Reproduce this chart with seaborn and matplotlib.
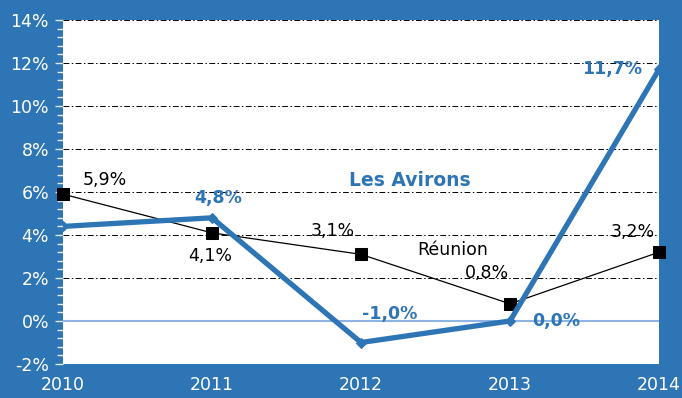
import matplotlib
matplotlib.use("Agg")
import matplotlib.pyplot as plt
from matplotlib.ticker import MultipleLocator, FuncFormatter
import numpy as np
import pandas as pd
import seaborn as sns

years = [2010, 2011, 2012, 2013, 2014]
avirons = [4.4, 4.8, -1.0, 0.0, 11.7]
reunion = [5.9, 4.1, 3.1, 0.8, 3.2]
avirons_labels = [None, "4,8%", "-1,0%", "0,0%", "11,7%"]
reunion_labels = ["5,9%", "4,1%", "3,1%", "0,8%", "3,2%"]
y_ticks = [-2, 0, 2, 4, 6, 8, 10, 12, 14]

BLUE = "#2E75B6"

sns.set_theme(style="white")
plt.rcParams["font.family"] = ["DejaVu Sans"]

df = pd.DataFrame({"year": years, "Les Avirons": avirons, "Réunion": reunion})

fig = plt.figure(figsize=(6.82, 3.98), dpi=100, facecolor=BLUE)
ax = fig.add_axes([63 / 682, 34 / 398, 596 / 682, 344 / 398])
ax.set_facecolor("white")

# horizontal gridlines
for v in y_ticks:
    if v == 0:
        continue
    style = (0, (3, 2)) if v == -2 else (0, (6, 2.5, 1.5, 2.5))
    ax.axhline(v, color="black", lw=0.7, ls=style, zorder=1)
ax.axhline(0, color="#8FB4E3", lw=1.5, zorder=1)

sns.lineplot(data=df, x="year", y="Réunion", ax=ax, color="black", lw=0.9,
             marker="s", markersize=9, markeredgecolor="black", zorder=3,
             clip_on=False)
sns.lineplot(data=df, x="year", y="Les Avirons", ax=ax, color=BLUE, lw=3.8,
             marker="D", markersize=5, markeredgecolor=BLUE, zorder=4)

ax.set_xlim(2010, 2014)
ax.set_ylim(-2, 14)
ax.set_xlabel("")
ax.set_ylabel("")
ax.set_xticks(years)
ax.set_yticks(y_ticks)
ax.yaxis.set_minor_locator(MultipleLocator(0.4))
ax.yaxis.set_major_formatter(FuncFormatter(lambda v, p: f"{int(v)}%"))
ax.tick_params(axis="y", which="major", length=6, width=1, color="#E0E8F2",
               labelcolor="white", labelsize=12.5, left=True, pad=4)
ax.tick_params(axis="y", which="minor", length=4, width=1, color="#E0E8F2", left=True)
ax.tick_params(axis="x", length=0, labelcolor="white", labelsize=12.5, pad=9)
for s in ax.spines.values():
    s.set_visible(False)

# value labels
r_off = [(42, 14), (-2, -23), (-28, 23), (-23, 31), (-26, 20)]
for x, y, t, o in zip(years, reunion, reunion_labels, r_off):
    ax.annotate(t, (x, y), xytext=o, textcoords="offset pixels",
                ha="center", va="center", fontsize=12.5, color="black", zorder=5)

a_off = [None, (6, 20), (29, 29), (46, 0), (-47, 0)]
for x, y, t, o in zip(years, avirons, avirons_labels, a_off):
    if t is None:
        continue
    ax.annotate(t, (x, y), xytext=o, textcoords="offset pixels",
                ha="center", va="center", fontsize=12.5, fontweight="bold",
                color=BLUE, zorder=5)

# series names
ax.text(2011.92, 6.55, "Les Avirons", color=BLUE, fontsize=13.5,
        fontweight="bold", ha="left", va="center")
ax.text(2012.38, 3.3, "Réunion", color="black", fontsize=12.5, ha="left", va="center")

fig.savefig("out.png", dpi=100, facecolor=BLUE)
